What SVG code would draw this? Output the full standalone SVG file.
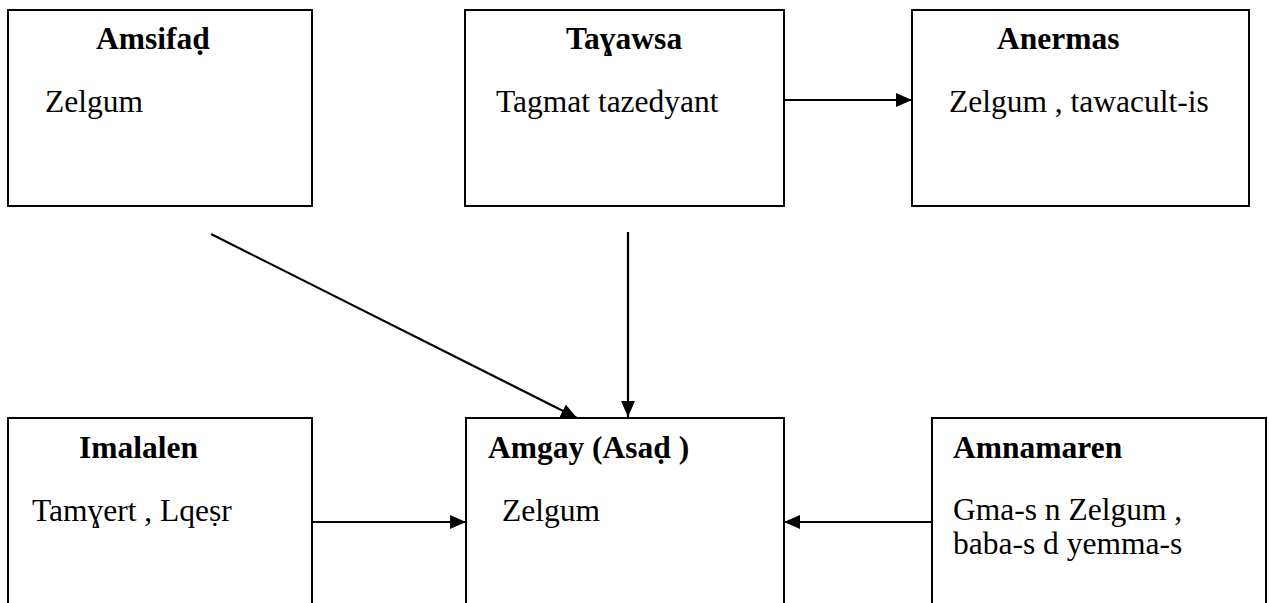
<svg xmlns="http://www.w3.org/2000/svg" width="1269" height="603" viewBox="0 0 1269 603">
<style>
.box{fill:#fff;stroke:#000;stroke-width:2}
.t{font-family:"Liberation Serif","DejaVu Serif",serif;font-size:31.5px;fill:#000}
.b{font-weight:bold}
.c{stroke:#000;stroke-width:2.2;fill:none;marker-end:url(#ah)}
</style>
<defs>
<marker id="ah" markerUnits="userSpaceOnUse" markerWidth="18" markerHeight="16" refX="16" refY="7" orient="auto">
<path d="M0,0 L16,7 L0,14 z" fill="#000"/>
</marker>
</defs>
<rect width="1269" height="603" fill="#fff"/>
<g id="amsifad">
<rect class="box" x="8" y="10" width="304" height="196"/>
<text class="t b" x="96" y="49">Amsifaḍ</text>
<text class="t" x="45" y="112">Zelgum</text>
</g>
<g id="tayawsa">
<rect class="box" x="465" y="10" width="319" height="196"/>
<text class="t b" x="566" y="49">Taɣawsa</text>
<text class="t" x="496" y="112">Tagmat tazedyant</text>
</g>
<g id="anermas">
<rect class="box" x="912" y="10" width="337" height="196"/>
<text class="t b" x="997" y="49">Anermas</text>
<text class="t" x="949" y="112">Zelgum , tawacult-is</text>
</g>
<g id="imalalen">
<rect class="box" x="8" y="418" width="304" height="200"/>
<text class="t b" x="79" y="458">Imalalen</text>
<text class="t" x="32" y="521">Tamɣert , Lqeṣr</text>
</g>
<g id="amgay">
<rect class="box" x="466" y="418" width="318" height="200"/>
<text class="t b" x="488" y="458">Amgay (Asaḍ )</text>
<text class="t" x="502" y="521">Zelgum</text>
</g>
<g id="amnamaren">
<rect class="box" x="932" y="418" width="334" height="200"/>
<text class="t b" x="953" y="458">Amnamaren</text>
<text class="t" x="953" y="520">Gma-s n Zelgum ,</text>
<text class="t" x="953" y="554">baba-s d yemma-s</text>
</g>
<g id="connectors">
<line class="c" x1="784" y1="100" x2="912" y2="100"/>
<line class="c" x1="211" y1="234" x2="577" y2="418"/>
<line class="c" x1="628" y1="232" x2="628" y2="417"/>
<line class="c" x1="312" y1="522" x2="466" y2="522"/>
<line class="c" x1="932" y1="522" x2="784" y2="522"/>
</g>
</svg>
